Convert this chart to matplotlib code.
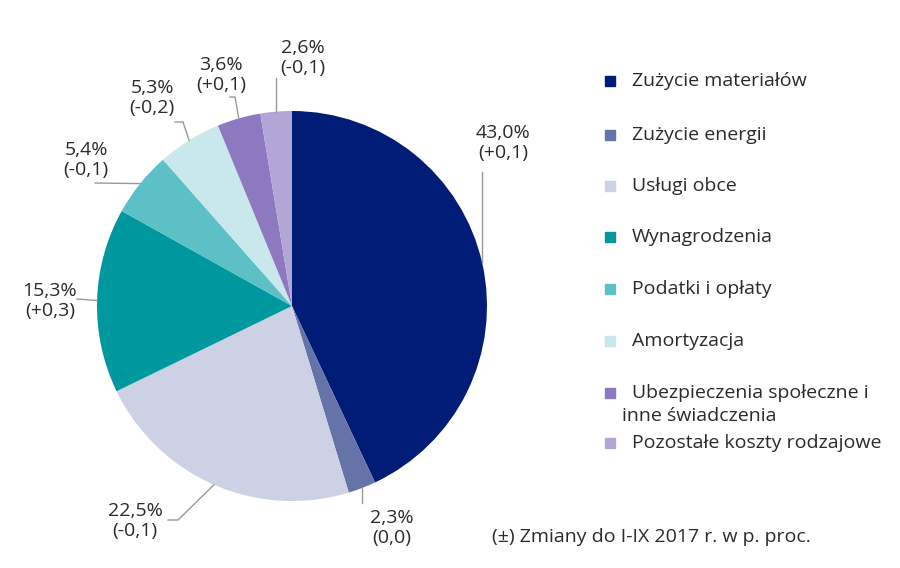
import matplotlib.pyplot as plt
import numpy as np

plt.rcParams['font.family'] = ['Open Sans', 'DejaVu Sans']

categories = ['Zużycie materiałów', 'Zużycie energii', 'Usługi obce', 'Wynagrodzenia',
              'Podatki i opłaty', 'Amortyzacja', 'Ubezpieczenia społeczne i\ninne świadczenia',
              'Pozostałe koszty rodzajowe']
shares = [43.0, 2.3, 22.5, 15.3, 5.4, 5.3, 3.6, 2.6]
changes = ['+0,1', '0,0', '-0,1', '+0,3', '-0,1', '-0,2', '+0,1', '-0,1']
colors = ['#001c77', '#6574a8', '#cdd1e4', '#00989f', '#5dc0c7', '#c8e8ec', '#8e78c0', '#b3a5d6']
footnote = '(±) Zmiany do I-IX 2017 r. w p. proc.'

# label text centres and leader elbows (pixel coords, y down)
label_pos = [(503, 143), (392, 528), (135, 521), (50, 301), (86, 160), (152, 98), (221, 75), (303, 58)]
elbows = [[(None, 172)], [(None, 503)], [(178, 520), (168, 520)], [(77, 299)],
          [(95, 183)], [(183, 122), (175, 122)], [(235, 97), (230, 97)], [(None, 78)]]

cx, cy, r = 292, 306, 195
txt = '#2a2a2a'
fs = 14

fig = plt.figure(figsize=(9, 5.68), dpi=100)
ax = fig.add_axes([0, 0, 1, 1])

wedges, _ = ax.pie(shares, colors=colors, center=(cx, cy), radius=r,
                   startangle=-90, counterclock=True, wedgeprops=dict(linewidth=0))
ax.set_xlim(0, 900)
ax.set_ylim(568, 0)
ax.set_aspect('equal')
ax.axis('off')

for w, s, c, (tx, ty), elb in zip(wedges, shares, changes, label_pos, elbows):
    mid = np.deg2rad((w.theta1 + w.theta2) / 2)
    ax_, ay_ = cx + r * np.cos(mid), cy + r * np.sin(mid)
    xs, ys = [ax_], [ay_]
    for ex, ey in elb:
        xs.append(ax_ if ex is None else ex)
        ys.append(ey)
    ax.plot(xs, ys, color='#999999', lw=1)
    lbl = f'{s:.1f}%'.replace('.', ',') + f'\n({c})'
    ax.text(tx, ty, lbl, ha='center', va='center', fontsize=fs, color=txt, linespacing=1.2)

# legend
leg_y = [81, 135, 186, 237, 289, 341, 393, 443]
for name, col, y in zip(categories, colors, leg_y):
    ax.add_patch(plt.Rectangle((605, y - 5), 10, 10, color=col))
    lines = name.split('\n')
    ax.text(632, y, lines[0], ha='left', va='center', fontsize=fs, color=txt)
    for k, extra in enumerate(lines[1:], 1):
        ax.text(622, y + 23 * k, extra, ha='left', va='center', fontsize=fs, color=txt)

ax.text(492, 537, footnote, ha='left', va='center', fontsize=fs, color=txt)

fig.savefig('out.png', dpi=100)
